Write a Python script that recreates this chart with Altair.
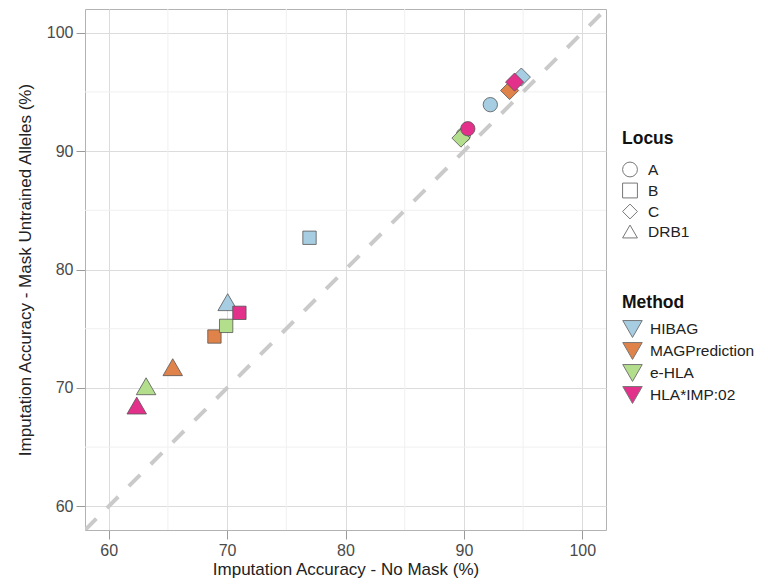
import altair as alt
import pandas as pd

# ---- data ----
methods = ["HIBAG", "HIBAG", "HIBAG", "HIBAG",
           "MAGPrediction", "MAGPrediction", "MAGPrediction",
           "e-HLA", "e-HLA", "e-HLA", "e-HLA",
           "HLA*IMP:02", "HLA*IMP:02", "HLA*IMP:02", "HLA*IMP:02"]
loci = ["A", "B", "C", "DRB1",
        "B", "C", "DRB1",
        "A", "B", "C", "DRB1",
        "A", "B", "C", "DRB1"]
no_mask = [92.23, 76.96, 94.85, 70.05,
           68.93, 93.86, 65.41,
           89.95, 69.92, 89.75, 63.16,
           90.33, 71.04, 94.28, 62.37]
mask_untrained = [93.92, 82.68, 96.25, 77.24,
                  74.34, 95.12, 71.75,
                  91.35, 75.24, 91.10, 70.14,
                  91.89, 76.34, 95.83, 68.51]

method_order = ["HIBAG", "MAGPrediction", "e-HLA", "HLA*IMP:02"]
method_colors = ["#a6cde2", "#e0834a", "#b3de8c", "#e3308a"]
locus_order = ["A", "B", "C", "DRB1"]
locus_shapes = ["circle", "square", "diamond", "triangle-up"]
locus_sizes = [205, 178, 330, 380]

axis_lo, axis_hi = 58, 102
major_ticks = [60, 70, 80, 90, 100]
minor_ticks = [65, 75, 85, 95]
diag = [axis_lo, axis_hi]

df = pd.DataFrame({"method": methods, "locus": loci,
                   "x": no_mask, "y": mask_untrained})
df["sz"] = df["locus"].map(dict(zip(locus_order, locus_sizes)))
df["order"] = range(len(df))
minor_df = pd.DataFrame({"v": minor_ticks})
diag_df = pd.DataFrame({"a": diag})

FONT = "Liberation Sans"
xscale = alt.Scale(domain=[axis_lo, axis_hi], nice=False, zero=False)
yscale = alt.Scale(domain=[axis_lo, axis_hi], nice=False, zero=False)
xaxis = alt.Axis(values=major_ticks, title="Imputation Accuracy - No Mask (%)", titlePadding=3)
yaxis = alt.Axis(values=major_ticks, title="Imputation Accuracy - Mask Untrained Alleles (%)",
                 titlePadding=12)

minor_x = alt.Chart(minor_df).mark_rule(color="#f0f0f0", strokeWidth=1).encode(
    x=alt.X("v:Q", scale=xscale, axis=xaxis))
minor_y = alt.Chart(minor_df).mark_rule(color="#f0f0f0", strokeWidth=1).encode(
    y=alt.Y("v:Q", scale=yscale, axis=yaxis))

diag_line = alt.Chart(diag_df).mark_line(
    color="#cacaca", strokeWidth=4, strokeDash=[16, 15], clip=True
).encode(
    x=alt.X("a:Q", scale=xscale, axis=xaxis),
    y=alt.Y("a:Q", scale=yscale, axis=yaxis),
)

points = alt.Chart(df).mark_point(
    filled=True, opacity=1, stroke="#555555", strokeWidth=0.8
).encode(
    x=alt.X("x:Q", scale=xscale, axis=xaxis),
    y=alt.Y("y:Q", scale=yscale, axis=yaxis),
    shape=alt.Shape("locus:N", scale=alt.Scale(domain=locus_order, range=locus_shapes),
                    legend=alt.Legend(title="Locus", orient="none", legendX=537, legendY=121,
                                      symbolFillColor="white", symbolStrokeColor="#777777",
                                      symbolStrokeWidth=1, symbolSize=220, rowPadding=1,
                                      titlePadding=14, labelOffset=10)),
    color=alt.Color("method:N", scale=alt.Scale(domain=method_order, range=method_colors),
                    legend=alt.Legend(title="Method", orient="none", legendX=537, legendY=285,
                                      symbolType="triangle-down", symbolSize=380,
                                      symbolStrokeColor="#777777", symbolStrokeWidth=1,
                                      rowPadding=1, titlePadding=7, labelOffset=7)),
    size=alt.Size("sz:Q", scale=None, legend=None),
    order=alt.Order("order:Q"),
)

chart = alt.layer(minor_x, minor_y, diag_line, points).properties(
    width=521, height=521,
    autosize=alt.AutoSizeParams(type="none"),
    padding={"left": 77, "top": 1, "right": 154, "bottom": 50},
).configure_view(
    stroke="#b3b3b3", strokeWidth=1
).configure_axis(
    domain=False, grid=True, gridColor="#dcdcdc", gridWidth=1,
    tickColor="#9a9a9a", tickSize=9, labelPadding=3,
    labelFont=FONT, labelFontSize=16, labelColor="#4a4a4a",
    titleFont=FONT, titleFontSize=17, titleFontWeight="normal", titleColor="#222222",
).configure_legend(
    titleFont=FONT, titleFontSize=17.5, titleFontWeight="bold", titleColor="#111111",
    labelFont=FONT, labelFontSize=15.5, labelColor="#222222",
    symbolOffset=0,
)

chart.save("out.html", embed_options={"renderer": "svg", "actions": False})
